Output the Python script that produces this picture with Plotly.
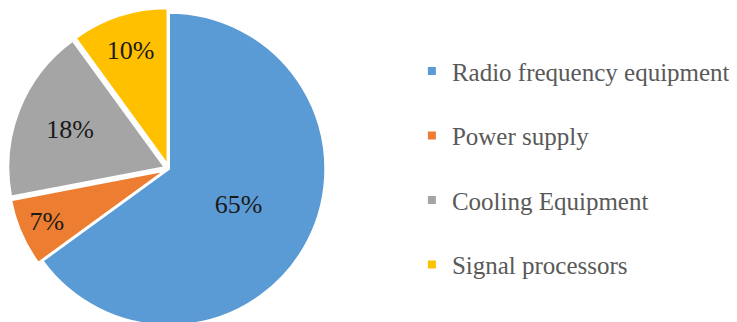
import plotly.graph_objects as go

labels = ['Radio frequency equipment', 'Power supply', 'Cooling Equipment', 'Signal processors']
values = [65, 7, 18, 10]
colors = ['#5B9BD5', '#ED7D31', '#A5A5A5', '#FFC000']
pulls = [0, 0.03, 0.03, 0.03]

serif = 'Liberation Serif, Times New Roman, serif'

fig = go.Figure()
fig.add_trace(go.Pie(labels=labels, values=values, sort=False, direction='clockwise', rotation=0,
                     marker=dict(colors=colors, line=dict(color='white', width=2)),
                     pull=pulls, texttemplate='%{percent:.0%}', textposition='inside',
                     insidetextorientation='horizontal',
                     textfont=dict(family=serif, size=26, color='#1a1a1a'),
                     showlegend=False, hoverinfo='label+percent',
                     domain=dict(x=[0, 322/737], y=[0, 1])))

# legend entries as separate groups so the gap between them can be set
for i in range(len(labels)):
    fig.add_trace(go.Scatter(x=[None], y=[None], mode='markers', name=labels[i],
                             legendgroup='g%d' % i,
                             marker=dict(symbol='square', size=8, color=colors[i])))

fig.update_xaxes(visible=False)
fig.update_yaxes(visible=False)
fig.update_layout(width=737, height=322, margin=dict(l=0, r=0, t=0, b=0),
                  plot_bgcolor='white', paper_bgcolor='white',
                  legend=dict(x=0.548, y=0.875, xanchor='left', yanchor='top',
                              font=dict(family=serif, size=25, color='#595959'),
                              tracegroupgap=29, bgcolor='rgba(0,0,0,0)'))
fig.write_html("out.html")
